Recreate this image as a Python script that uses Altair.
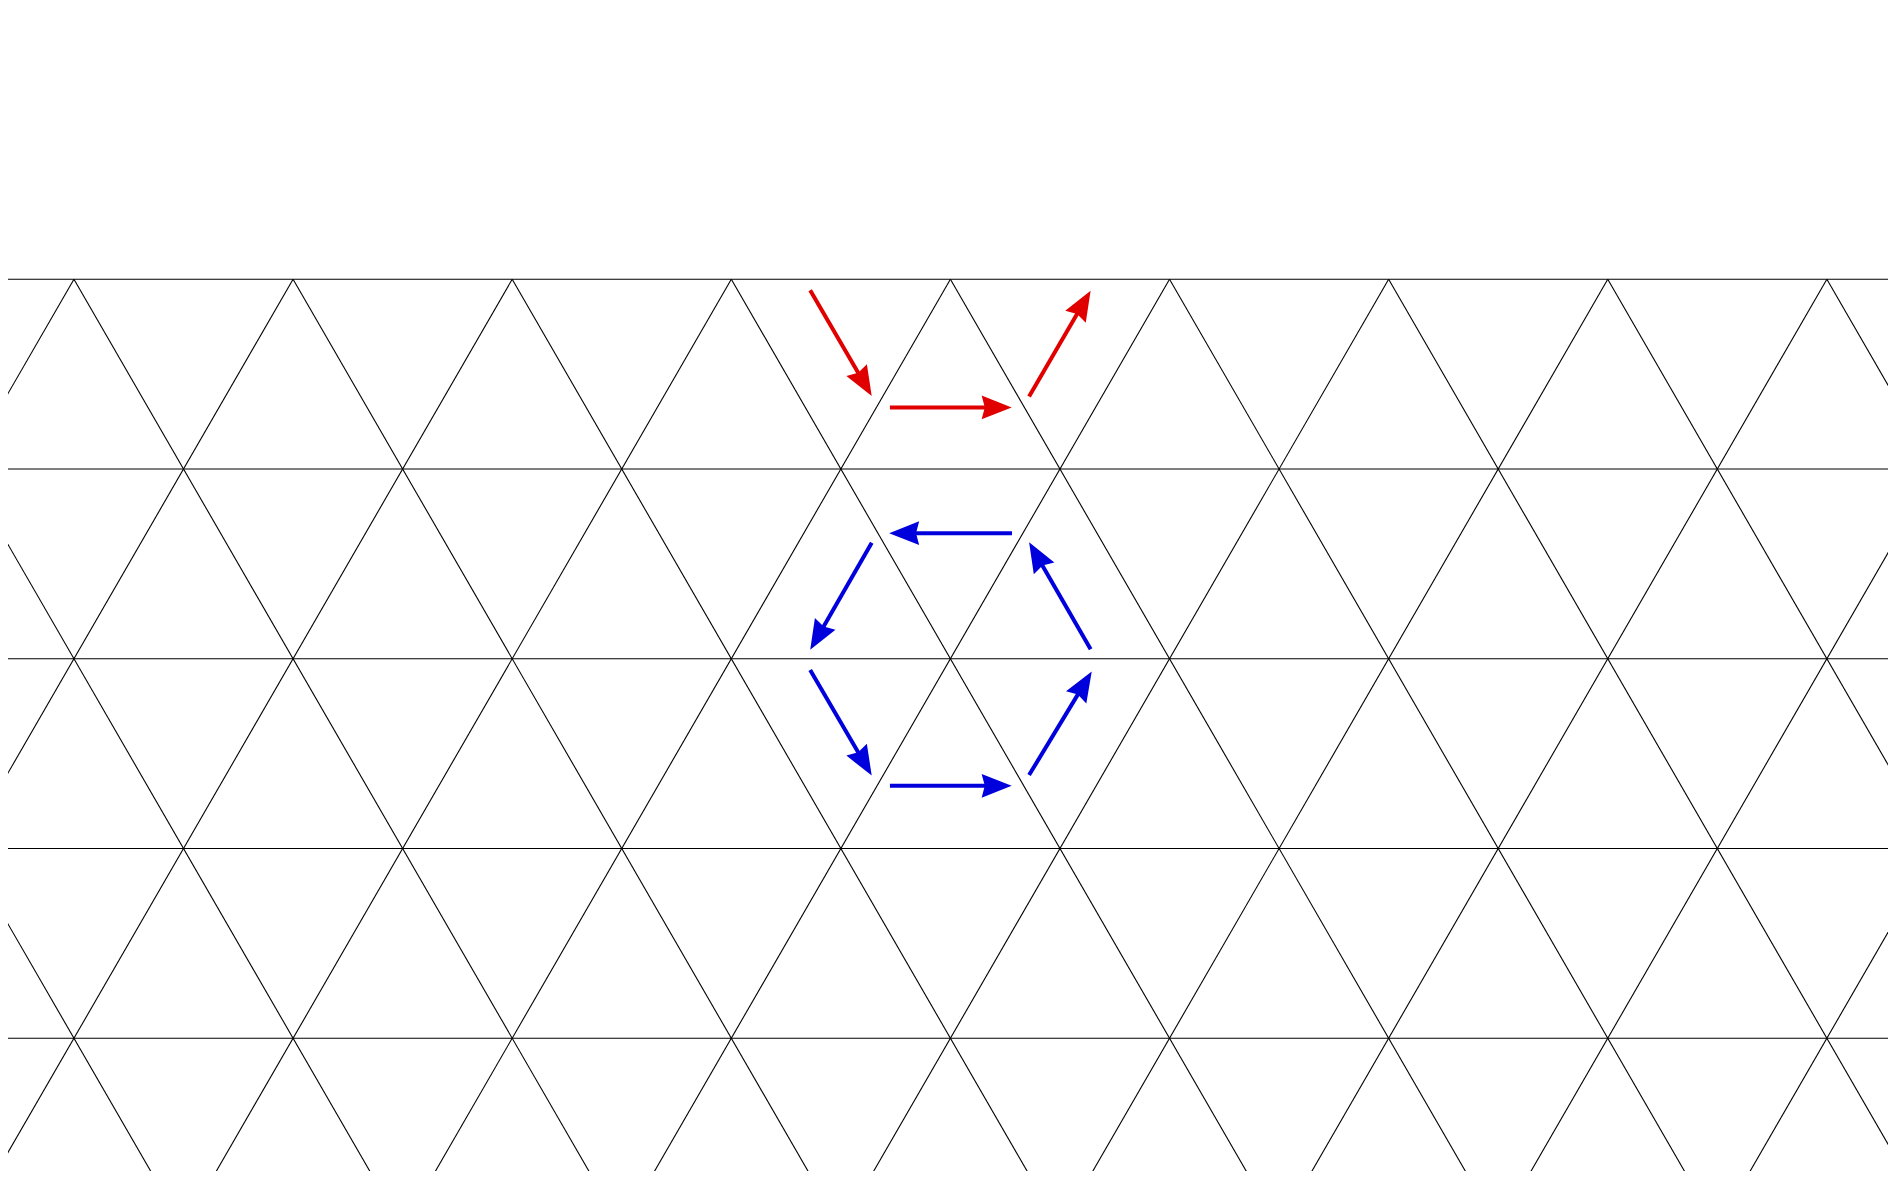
import altair as alt
import pandas as pd
import numpy as np

S3 = np.sqrt(3)
# lattice vertex columns and row indices (unit = triangle side)
cols = list(range(-8, 9))
rows = [0, 1, 2, 3, 4, 5]

# arrows: (x0, y0) -> (x1, y1) in lattice units, y downward
red_x0 = [-0.640, -0.276, 0.359]
red_y0 = [0.050, 0.585, 0.535]
red_x1 = [-0.364, 0.270, 0.635]
red_y1 = [0.525, 0.585, 0.061]
blue_x0 = [0.281, -0.359, -0.640, -0.276, 0.359, 0.640]
blue_y0 = [1.159, 1.203, 1.783, 2.312, 2.263, 1.689]
blue_x1 = [-0.270, -0.635, -0.364, 0.270, 0.640, 0.364]
blue_y1 = [1.159, 1.683, 2.257, 2.312, 1.799, 1.209]

xs = alt.Scale(domain=[-4.301, 4.279], nice=False, zero=False)
ys = alt.Scale(domain=[-1.238, 4.07], nice=False, zero=False, reverse=True)

seg = []
for r in rows:
    seg.append(dict(x=-9, y=r * S3 / 2, x2=9, y2=r * S3 / 2))
ymax = 5 * S3 / 2
for k in cols:
    seg.append(dict(x=k, y=0, x2=k + ymax / S3, y2=ymax))
    seg.append(dict(x=k, y=0, x2=k - ymax / S3, y2=ymax))
grid = alt.Chart(pd.DataFrame(seg)).mark_rule(color="#000", strokeWidth=1.1, clip=True).encode(
    x=alt.X("x:Q", scale=xs, axis=None), y=alt.Y("y:Q", scale=ys, axis=None),
    x2="x2:Q", y2="y2:Q")

shafts, heads = [], []
L = 0.125
for c, X0, Y0, X1, Y1 in [("red", red_x0, red_y0, red_x1, red_y1),
                          ("blue", blue_x0, blue_y0, blue_x1, blue_y1)]:
    for x0, y0, x1, y1 in zip(X0, Y0, X1, Y1):
        d = np.hypot(x1 - x0, y1 - y0)
        ux, uy = (x1 - x0) / d, (y1 - y0) / d
        shafts.append(dict(x=x0, y=y0, x2=x1 - ux * L * 0.8, y2=y1 - uy * L * 0.8, c=c))
        ang = float(np.degrees(np.arctan2(ux, -uy))) % 360
        heads.append(dict(x=x1 - ux * L * 0.5, y=y1 - uy * L * 0.5, a=ang, c=c))

cs = alt.Scale(domain=["red", "blue"], range=["#e00000", "#0000dd"])
sh = alt.Chart(pd.DataFrame(shafts)).mark_rule(strokeWidth=4).encode(
    x=alt.X("x:Q", scale=xs), y=alt.Y("y:Q", scale=ys), x2="x2:Q", y2="y2:Q",
    color=alt.Color("c:N", scale=cs, legend=None))
hd = alt.Chart(pd.DataFrame(heads)).mark_point(
    shape="M0,-1L0.75,0.9L0,0.7L-0.75,0.9Z", filled=True, size=1000, opacity=1).encode(
    x=alt.X("x:Q", scale=xs), y=alt.Y("y:Q", scale=ys),
    angle=alt.Angle("a:Q", scale=None),
    color=alt.Color("c:N", scale=cs, legend=None))

chart = (grid + sh + hd).properties(width=1880, height=1163, padding=0,
                                     autosize=alt.AutoSizeParams(type="none")
                                     ).configure_view(stroke=None)
chart.save("out.html", embed_options={"renderer": "svg", "actions": False})
